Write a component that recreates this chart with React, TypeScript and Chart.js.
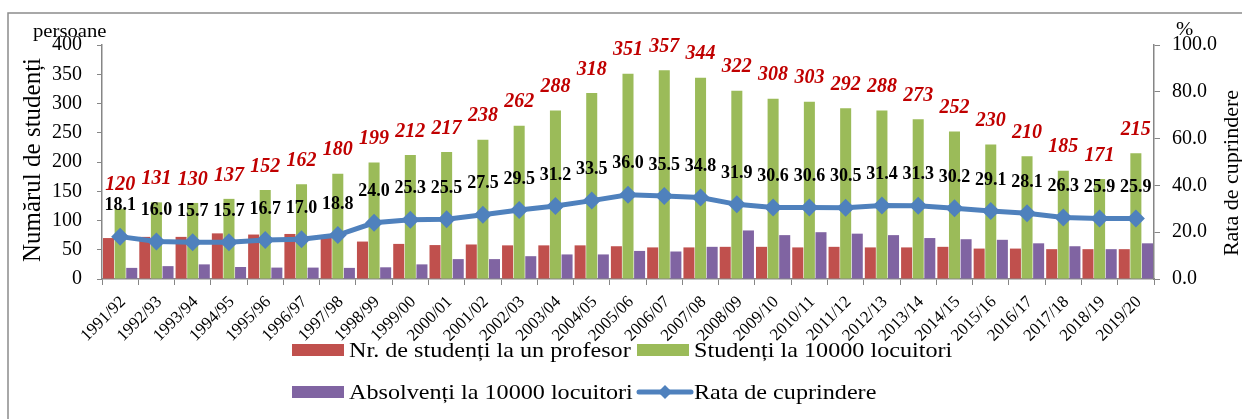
import React, { useEffect, useRef } from "react";
import { Chart, registerables } from "chart.js";

Chart.register(...registerables);

const categories = [
  "1991/92", "1992/93", "1993/94", "1994/95", "1995/96", "1996/97", "1997/98", "1998/99",
  "1999/00", "2000/01", "2001/02", "2002/03", "2003/04", "2004/05", "2005/06", "2006/07",
  "2007/08", "2008/09", "2009/10", "2010/11", "2011/12", "2012/13", "2013/14", "2014/15",
  "2015/16", "2016/17", "2017/18", "2018/19", "2019/20",
];

const studentsPerProfessor = [
  70, 72, 72, 78, 76, 77, 72, 64, 60, 58, 59, 57.5, 57.5, 57.5, 56, 54, 54, 55, 55, 54,
  55, 54, 54, 55, 52, 52, 51, 51, 51,
];

const studentsPer10000 = [
  120, 131, 130, 137, 152, 162, 180, 199, 212, 217, 238, 262, 288, 318, 351, 357, 344, 322,
  308, 303, 292, 288, 273, 252, 230, 210, 185, 171, 215,
];

const graduatesPer10000 = [
  19, 22, 25, 20.5, 19.5, 19.5, 19, 20, 25, 34, 34, 39, 42, 42, 48, 47, 55, 83, 75, 80,
  77.5, 75, 70, 68, 67, 61, 56, 51, 61,
];

const enrollmentRate = [
  18.1, 16.0, 15.7, 15.7, 16.7, 17.0, 18.8, 24.0, 25.3, 25.5, 27.5, 29.5, 31.2, 33.5, 36.0,
  35.5, 34.8, 31.9, 30.6, 30.6, 30.5, 31.4, 31.3, 30.2, 29.1, 28.1, 26.3, 25.9, 25.9,
];

const leftTicks = [0, 50, 100, 150, 200, 250, 300, 350, 400];
const rightTicks = [0, 20, 40, 60, 80, 100];

const legendLabels = [
  "Nr. de studenți la un profesor",
  "Studenți la 10000 locuitori",
  "Absolvenți la 10000 locuitori",
  "Rata de cuprindere",
];

const RED = "#C0504D";
const GREEN = "#9BBB59";
const PURPLE = "#8064A2";
const BLUE = "#4F81BD";
const AXIS = "#868686";
const SERIF = '"Liberation Serif", "Times New Roman", serif';
const STRETCH = 1.15;

function stretchedText(ctx: CanvasRenderingContext2D, text: string, x: number, y: number) {
  ctx.save();
  ctx.translate(x, y);
  ctx.scale(STRETCH, 1);
  ctx.fillText(text, 0, 0);
  ctx.restore();
}

const overlayPlugin = {
  id: "overlay",
  afterDraw(chart: any) {
    const ctx = chart.ctx as CanvasRenderingContext2D;
    ctx.save();

    // outer frame
    ctx.strokeStyle = "#8c8c8c";
    ctx.lineWidth = 1.5;
    ctx.strokeRect(8, 13, 1260, 430);

    // value labels for students per 10000 (red italic)
    const green = chart.getDatasetMeta(1);
    ctx.textAlign = "center";
    ctx.textBaseline = "middle";
    ctx.font = `italic bold 20px ${SERIF}`;
    ctx.fillStyle = "#C00000";
    green.data.forEach((el: any, i: number) => {
      ctx.fillText(String(studentsPer10000[i]), el.x, el.y - 23.5);
    });

    // value labels for the rate line
    const line = chart.getDatasetMeta(3);
    ctx.font = `bold 18px ${SERIF}`;
    ctx.fillStyle = "#000";
    line.data.forEach((el: any, i: number) => {
      ctx.fillText(enrollmentRate[i].toFixed(1), el.x, el.y - 31);
    });

    // axis titles
    ctx.fillStyle = "#000";
    ctx.font = `25px ${SERIF}`;
    ctx.save();
    ctx.translate(33, 160);
    ctx.rotate(-Math.PI / 2);
    ctx.fillText("Numărul de studenți", 0, 0);
    ctx.restore();

    ctx.font = `22px ${SERIF}`;
    ctx.save();
    ctx.translate(1232, 173);
    ctx.rotate(-Math.PI / 2);
    ctx.fillText("Rata de cuprindere", 0, 0);
    ctx.restore();

    ctx.textAlign = "left";
    ctx.font = `18px ${SERIF}`;
    stretchedText(ctx, "persoane", 33, 32);
    ctx.font = `18px ${SERIF}`;
    stretchedText(ctx, "%", 1176, 30);

    // legend
    ctx.font = `21px ${SERIF}`;
    const rows = [350, 392];
    const cols = [292, 637];
    const boxW = 52;
    const items = [
      { color: RED, col: 0, row: 0, kind: "box" },
      { color: GREEN, col: 1, row: 0, kind: "box" },
      { color: PURPLE, col: 0, row: 1, kind: "box" },
      { color: BLUE, col: 1, row: 1, kind: "line" },
    ];
    items.forEach((it, i) => {
      const x = cols[it.col];
      const y = rows[it.row];
      if (it.kind === "box") {
        ctx.fillStyle = it.color;
        ctx.fillRect(x, y - 6, boxW, 12);
      } else {
        ctx.strokeStyle = it.color;
        ctx.lineWidth = 5;
        ctx.lineCap = "round";
        ctx.beginPath();
        ctx.moveTo(x + 2, y);
        ctx.lineTo(x + boxW + 2, y);
        ctx.stroke();
        ctx.fillStyle = it.color;
        const cx = x + boxW / 2 + 2;
        ctx.beginPath();
        ctx.moveTo(cx, y - 7);
        ctx.lineTo(cx + 7, y);
        ctx.lineTo(cx, y + 7);
        ctx.lineTo(cx - 7, y);
        ctx.closePath();
        ctx.fill();
      }
      ctx.fillStyle = "#000";
      stretchedText(ctx, legendLabels[i], x + boxW + 5, y + 1);
    });

    ctx.restore();
  },
};

export default function App() {
  const canvasRef = useRef<HTMLCanvasElement | null>(null);

  useEffect(() => {
    if (!canvasRef.current) return;
    const barDefaults = {
      yAxisID: "y",
      order: 1,
      categoryPercentage: 0.96,
      barPercentage: 0.95,
    };
    const chart = new Chart(canvasRef.current, {
      type: "bar",
      data: {
        labels: categories,
        datasets: [
          { label: legendLabels[0], data: studentsPerProfessor, backgroundColor: RED, ...barDefaults },
          { label: legendLabels[1], data: studentsPer10000, backgroundColor: GREEN, ...barDefaults },
          { label: legendLabels[2], data: graduatesPer10000, backgroundColor: PURPLE, ...barDefaults },
          {
            type: "line" as any,
            label: legendLabels[3],
            data: enrollmentRate,
            borderColor: BLUE,
            backgroundColor: BLUE,
            borderWidth: 5,
            pointStyle: "rectRot",
            pointRadius: 9,
            pointBorderWidth: 0,
            pointBackgroundColor: BLUE,
            yAxisID: "y1",
            order: 0,
            tension: 0,
          } as any,
        ],
      },
      options: {
        responsive: false,
        animation: false,
        layout: { padding: { top: 45, left: 0, right: 0, bottom: 0 } },
        plugins: {
          legend: { display: false },
          tooltip: { enabled: false },
          title: { display: false },
        },
        scales: {
          x: {
            offset: true,
            grid: {
              display: true,
              drawOnChartArea: false,
              drawTicks: true,
              tickLength: 6,
              color: AXIS,
              offset: true,
            },
            border: { display: true, color: AXIS, width: 1.5 },
            ticks: {
              color: "#000",
              font: { family: SERIF, size: 17 },
              maxRotation: 45,
              minRotation: 45,
              autoSkip: false,
              padding: 7,
              labelOffset: 3,
            },
            afterFit(scale: any) {
              scale.height = 140;
            },
          },
          y: {
            position: "left",
            min: 0,
            max: 400,
            afterBuildTicks(scale: any) {
              scale.ticks = leftTicks.map((v) => ({ value: v }));
            },
            grid: {
              display: true,
              drawOnChartArea: false,
              drawTicks: true,
              tickLength: 5,
              color: AXIS,
            },
            border: { display: true, color: AXIS, width: 1.5 },
            ticks: {
              color: "#000",
              font: { family: SERIF, size: 20 },
              padding: 15,
            },
            afterFit(scale: any) {
              scale.width = 102;
            },
          },
          y1: {
            position: "right",
            min: 0,
            max: 100,
            afterBuildTicks(scale: any) {
              scale.ticks = rightTicks.map((v) => ({ value: v }));
            },
            grid: {
              display: true,
              drawOnChartArea: false,
              drawTicks: true,
              tickLength: 6,
              color: AXIS,
            },
            border: { display: true, color: AXIS, width: 1.5 },
            ticks: {
              color: "#000",
              font: { family: SERIF, size: 20 },
              padding: 12,
              callback: (v: any) => Number(v).toFixed(1),
            },
            afterFit(scale: any) {
              scale.width = 88;
            },
          },
        },
      },
      plugins: [overlayPlugin],
    });
    return () => chart.destroy();
  }, []);

  return (
    <div style={{ position: "fixed", left: 0, top: 0, width: 1242, height: 419, background: "#fff" }}>
      <canvas ref={canvasRef} width={1242} height={419} style={{ display: "block" }} />
    </div>
  );
}
